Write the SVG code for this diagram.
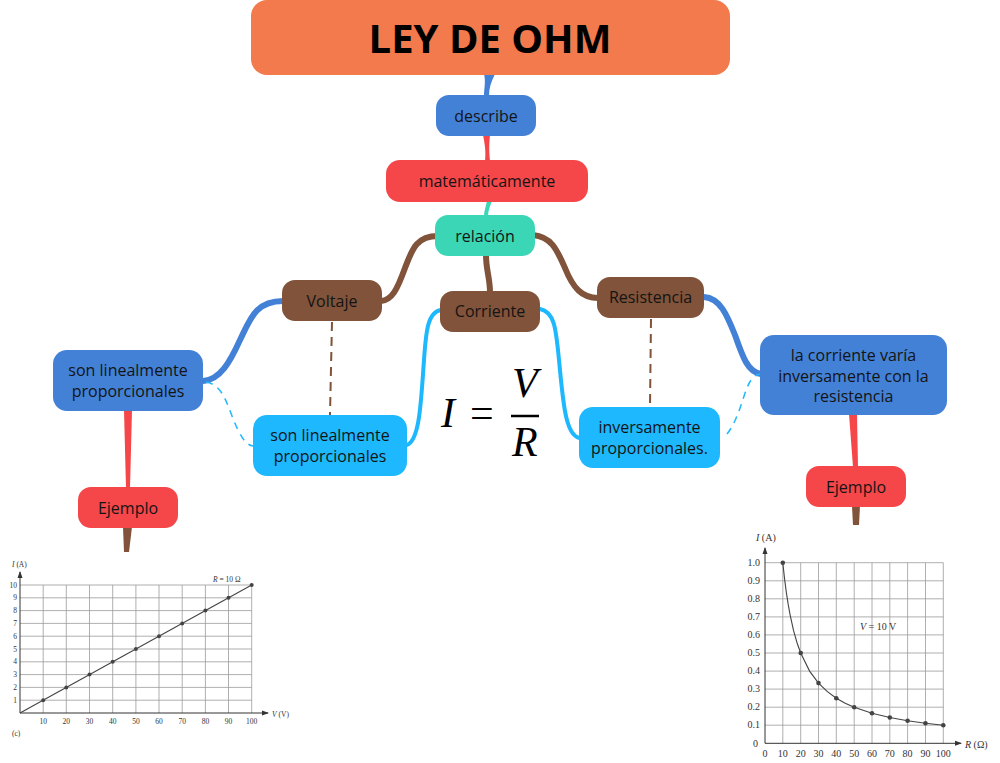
<svg xmlns="http://www.w3.org/2000/svg" width="1000" height="763" viewBox="0 0 1000 763">
<style>
.t{font-family:"Open Sans","Noto Sans","DejaVu Sans",sans-serif;font-size:16px;fill:#141414;text-anchor:middle;dominant-baseline:central}
.title{font-family:"Open Sans","Noto Sans","DejaVu Sans",sans-serif;font-size:40px;font-weight:bold;fill:#000;text-anchor:middle}
.blue{fill:#4381D7}.red{fill:#F54749}.teal{fill:#3AD6B5}.brown{fill:#80533A}.lblue{fill:#1DB8FE}
.c{fill:none;stroke-linecap:round}
.g{stroke:#9a9a9a;stroke-width:0.8;fill:none}
.ax{stroke:#333;stroke-width:1;fill:none}
.s8{font-family:"Liberation Serif",serif;font-size:7.5px;fill:#333}
.s10{font-family:"Liberation Serif",serif;font-size:10px;fill:#333}
.math{font-family:"Liberation Serif","DejaVu Serif",serif;font-size:42px;fill:#000}
</style>
<defs>
<marker id="ar" markerWidth="8" markerHeight="8" refX="6" refY="4" orient="auto" markerUnits="userSpaceOnUse">
<path d="M0,1.5 L7,4 L0,6.5 Z" fill="#333"/>
</marker>
</defs>

<g id="connectors">
<path d="M484,74 L495,74 C491,82 489,88 489,96 L484,96 C484,88 486,82 484,74 Z" class="blue"/>
<path d="M483,135 L490,135 C489,145 489,152 490,161 L485,161 C486,152 485,145 483,135 Z" class="red"/>
<path d="M487,201 L492,201 C490,206 488,211 488,216 L484,216 C484,211 486,206 487,201 Z" class="teal"/>
<path class="c" stroke="#80533A" stroke-width="6" d="M438,236 C416,236 412,250 405,268 C397,290 392,300 381,301"/>
<path class="c" stroke="#80533A" stroke-width="6" d="M486,255 C486,270 490,278 490,292"/>
<path class="c" stroke="#80533A" stroke-width="6" d="M533,235 C552,237 557,250 565,268 C573,288 582,298 598,298"/>
<path class="c" stroke="#4381D7" stroke-width="6" d="M283,301 C255,301 250,320 240,340 C230,362 220,380 203,381"/>
<path class="c" stroke="#1DB8FE" stroke-width="4" d="M441,310 C428,312 426,330 424,360 C421,400 420,440 407,445"/>
<path class="c" stroke="#1DB8FE" stroke-width="4" d="M540,309 C555,312 556,330 559,360 C563,400 565,436 580,438"/>
<path class="c" stroke="#4381D7" stroke-width="6" d="M704,297 C720,298 727,315 735,335 C743,358 748,372 761,374"/>
<path fill="none" stroke="#80533A" stroke-width="2" stroke-dasharray="9,6" d="M332,322 L330,415"/>
<path fill="none" stroke="#80533A" stroke-width="2" stroke-dasharray="9,6" d="M651,319 L650,407"/>
<path fill="none" stroke="#1DB8FE" stroke-width="1.5" stroke-dasharray="7,6" d="M206,382 C225,385 228,410 238,430 C243,440 247,445 253,446"/>
<path fill="none" stroke="#1DB8FE" stroke-width="1.5" stroke-dasharray="7,6" d="M727,434 C738,420 742,400 747,388 C750,380 754,375 760,374"/>
<path d="M124,410 L132,410 L130,488 L126,488 Z" class="red"/>
<path d="M123,527 L132,527 L129,552 L124,552 Z" class="brown"/>
<path d="M849,414 L857,414 L858,467 L853,467 Z" class="red"/>
<path d="M852,506 L860,506 L859,525 L853,525 Z" class="brown"/>
</g>

<g id="n-title"><rect x="251" y="0" width="479" height="75" rx="16" fill="#F27A4C"/><text class="title" x="490" y="53">LEY DE OHM</text></g>
<g id="n-describe"><rect x="436" y="95" width="100" height="41" rx="13" class="blue"/><text class="t" x="486" y="115.5">describe</text></g>
<g id="n-mat"><rect x="386" y="160" width="202" height="42" rx="14" class="red"/><text class="t" x="487" y="180.5">matemáticamente</text></g>
<g id="n-relacion"><rect x="435" y="215" width="100" height="41" rx="13" class="teal"/><text class="t" x="485" y="235.5">relación</text></g>
<g id="n-voltaje"><rect x="282" y="280" width="100" height="41" rx="13" class="brown"/><text class="t" x="332" y="300.5">Voltaje</text></g>
<g id="n-corriente"><rect x="440" y="291" width="100" height="41" rx="13" class="brown"/><text class="t" x="490" y="311">Corriente</text></g>
<g id="n-resistencia"><rect x="597" y="277" width="107" height="41" rx="13" class="brown"/><text class="t" x="650.5" y="297">Resistencia</text></g>
<g id="n-lin1"><rect x="53" y="350" width="150" height="61" rx="14" class="blue"/><text class="t" x="128" y="370">son linealmente</text><text class="t" x="128" y="391">proporcionales</text></g>
<g id="n-lin2"><rect x="253" y="415" width="154" height="61" rx="14" class="lblue"/><text class="t" x="330" y="435">son linealmente</text><text class="t" x="330" y="456">proporcionales</text></g>
<g id="n-inv"><rect x="579" y="407" width="141" height="61" rx="14" class="lblue"/><text class="t" x="649.5" y="427">inversamente</text><text class="t" x="649.5" y="448">proporcionales.</text></g>
<g id="n-varia"><rect x="760" y="335" width="187" height="80" rx="14" class="blue"/><text class="t" x="853.5" y="355">la corriente varía</text><text class="t" x="853.5" y="375.5">inversamente con la</text><text class="t" x="853.5" y="396">resistencia</text></g>
<g id="n-ej1"><rect x="78" y="487" width="100" height="41" rx="13" class="red"/><text class="t" x="128" y="507.5">Ejemplo</text></g>
<g id="n-ej2"><rect x="806" y="466" width="100" height="41" rx="13" class="red"/><text class="t" x="856" y="486.5">Ejemplo</text></g>

<g id="formula">
<text class="math" x="441" y="427" font-style="italic">I</text>
<text class="math" x="470" y="427">=</text>
<text class="math" x="512" y="397" font-style="italic">V</text>
<line x1="511" y1="416" x2="539" y2="416" stroke="#000" stroke-width="2.5"/>
<text class="math" x="512" y="456" font-style="italic">R</text>
</g>

<g id="chart-left">
<path class="g" d="M43.2,585V713M66.3,585V713M89.5,585V713M112.7,585V713M135.9,585V713M159,585V713M182.2,585V713M205.4,585V713M228.5,585V713M251.7,585V713M20,700.2H251.7M20,687.4H251.7M20,674.6H251.7M20,661.8H251.7M20,649H251.7M20,636.2H251.7M20,623.4H251.7M20,610.6H251.7M20,597.8H251.7M20,585H251.7"/>
<line class="ax" x1="20" y1="713" x2="20" y2="572" marker-end="url(#ar)"/>
<line class="ax" x1="20" y1="713" x2="268" y2="713" marker-end="url(#ar)"/>
<line x1="20" y1="713" x2="251.7" y2="585" stroke="#444" stroke-width="1.1"/>
<g fill="#444">
<circle cx="43.2" cy="700.2" r="2"/><circle cx="66.3" cy="687.4" r="2"/><circle cx="89.5" cy="674.6" r="2"/><circle cx="112.7" cy="661.8" r="2"/><circle cx="135.9" cy="649" r="2"/><circle cx="159" cy="636.2" r="2"/><circle cx="182.2" cy="623.4" r="2"/><circle cx="205.4" cy="610.6" r="2"/><circle cx="228.5" cy="597.8" r="2"/><circle cx="251.7" cy="585" r="2"/>
</g>
<g class="s8" text-anchor="end">
<text x="17" y="703">1</text><text x="17" y="690">2</text><text x="17" y="677">3</text><text x="17" y="664">4</text><text x="17" y="652">5</text><text x="17" y="639">6</text><text x="17" y="626">7</text><text x="17" y="613">8</text><text x="17" y="600">9</text><text x="17" y="588">10</text>
</g>
<g class="s8" text-anchor="middle">
<text x="43.2" y="724">10</text><text x="66.3" y="724">20</text><text x="89.5" y="724">30</text><text x="112.7" y="724">40</text><text x="135.9" y="724">50</text><text x="159" y="724">60</text><text x="182.2" y="724">70</text><text x="205.4" y="724">80</text><text x="228.5" y="724">90</text><text x="251.7" y="724">100</text>
</g>
<text class="s8" x="12" y="567"><tspan font-style="italic">I</tspan> (A)</text>
<text class="s8" x="272" y="717"><tspan font-style="italic">V</tspan> (V)</text>
<text class="s8" x="213" y="582"><tspan font-style="italic">R</tspan> = 10 Ω</text>
<text class="s8" x="12" y="736">(c)</text>
</g>

<g id="chart-right">
<path class="g" d="M782.8,562.7V743.3M800.7,562.7V743.3M818.5,562.7V743.3M836.3,562.7V743.3M854.2,562.7V743.3M872,562.7V743.3M889.8,562.7V743.3M907.6,562.7V743.3M925.5,562.7V743.3M943.3,562.7V743.3M765,725.2H943.3M765,707.2H943.3M765,689.1H943.3M765,671.1H943.3M765,653H943.3M765,634.9H943.3M765,616.9H943.3M765,598.8H943.3M765,580.8H943.3M765,562.7H943.3"/>
<line class="ax" x1="765" y1="743.3" x2="765" y2="548" marker-end="url(#ar)"/>
<line class="ax" x1="765" y1="743.3" x2="961" y2="743.3" marker-end="url(#ar)"/>
<polyline fill="none" stroke="#444" stroke-width="1.1" points="782.8,562.7 784.6,579.1 786.4,592.8 788.2,604.4 790,614.3 793.5,630.4 797.1,643 800.7,653 809.6,671.1 818.5,683.1 827.4,691.7 836.3,698.2 845.2,703.2 854.2,707.2 872,713.2 889.8,717.5 907.6,720.7 925.5,723.2 943.3,725.2"/>
<g fill="#444">
<circle cx="782.8" cy="562.7" r="2.3"/><circle cx="800.7" cy="653" r="2.3"/><circle cx="818.5" cy="683.1" r="2.3"/><circle cx="836.3" cy="698.2" r="2.3"/><circle cx="854.2" cy="707.2" r="2.3"/><circle cx="872" cy="713.2" r="2.3"/><circle cx="889.8" cy="717.5" r="2.3"/><circle cx="907.6" cy="720.7" r="2.3"/><circle cx="925.5" cy="723.2" r="2.3"/><circle cx="943.3" cy="725.2" r="2.3"/>
</g>
<g class="s10" text-anchor="end">
<text x="760" y="566">1.0</text><text x="760" y="584">0.9</text><text x="760" y="602">0.8</text><text x="760" y="620">0.7</text><text x="760" y="638">0.6</text><text x="760" y="656">0.5</text><text x="760" y="674">0.4</text><text x="760" y="692">0.3</text><text x="760" y="710">0.2</text><text x="760" y="728">0.1</text><text x="758" y="747">0</text>
</g>
<g class="s10" text-anchor="middle">
<text x="765" y="757">0</text><text x="782.8" y="757">10</text><text x="800.7" y="757">20</text><text x="818.5" y="757">30</text><text x="836.3" y="757">40</text><text x="854.2" y="757">50</text><text x="872" y="757">60</text><text x="889.8" y="757">70</text><text x="907.6" y="757">80</text><text x="925.5" y="757">90</text><text x="943.3" y="757">100</text>
</g>
<text class="s10" x="756" y="541"><tspan font-style="italic">I</tspan> (A)</text>
<text class="s10" x="965" y="748"><tspan font-style="italic">R</tspan> (Ω)</text>
<text class="s10" x="860" y="630"><tspan font-style="italic">V</tspan> = 10 V</text>
</g>
</svg>
